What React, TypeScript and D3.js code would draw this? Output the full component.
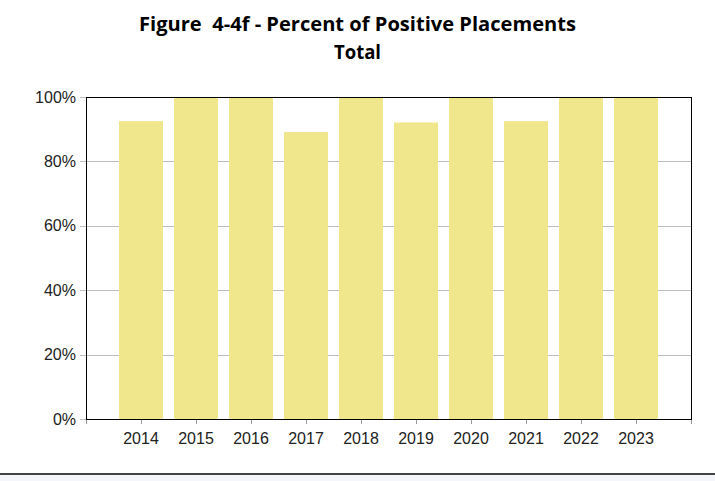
import React, { useEffect, useRef } from "react";
import * as d3 from "d3";

const years: number[] = [2014, 2015, 2016, 2017, 2018, 2019, 2020, 2021, 2022, 2023];
const values: number[] = [92.5, 100, 100, 89.1, 100, 92.1, 100, 92.5, 100, 100];
const yTicks: number[] = [0, 20, 40, 60, 80, 100];

const W = 715;
const H = 481;
const margin = { top: 97, right: 24, bottom: 62, left: 86 };

const App = () => {
  const ref = useRef<SVGSVGElement>(null);

  useEffect(() => {
    if (!ref.current) return;
    const svg = d3.select(ref.current);
    svg.selectAll("*").remove();

    const x0 = margin.left;
    const x1 = W - margin.right;
    const y0 = H - margin.bottom;
    const y1 = margin.top;

    // linear axis with one empty slot on each side of the bars
    const x = d3.scaleLinear().domain([2013, 2024]).range([x0, x1]);
    const y = d3.scaleLinear().domain([0, 100]).range([y0, y1]);
    const step = x(2014) - x(2013);
    const bw = step * 0.8;

    svg.append("rect").attr("width", W).attr("height", H).attr("fill", "#fff");

    // title
    const title = svg
      .append("text")
      .attr("text-anchor", "middle")
      .attr("font-family", "'Open Sans', 'Liberation Sans', Arial, sans-serif")
      .attr("font-weight", "bold")
      .attr("font-size", 20)
      .attr("fill", "#000")
      .style("white-space", "pre");
    title
      .append("tspan")
      .attr("x", 357.5)
      .attr("y", 31)
      .attr("textLength", 437)
      .attr("lengthAdjust", "spacingAndGlyphs")
      .text("Figure  4-4f - Percent of Positive Placements");
    title
      .append("tspan")
      .attr("x", 357.5)
      .attr("y", 59)
      .attr("textLength", 47)
      .attr("lengthAdjust", "spacingAndGlyphs")
      .text("Total");

    // grid
    svg
      .append("g")
      .selectAll("line")
      .data(yTicks)
      .join("line")
      .attr("x1", x0 - 6)
      .attr("x2", x1)
      .attr("y1", (d) => Math.round(y(d)) + 0.5)
      .attr("y2", (d) => Math.round(y(d)) + 0.5)
      .attr("stroke", "#bdbdbd")
      .attr("stroke-width", 1);

    // bars
    svg
      .append("g")
      .selectAll("rect")
      .data(years)
      .join("rect")
      .attr("x", (d) => x(d) - bw / 2)
      .attr("width", bw)
      .attr("y", (d, i) => y(values[i]))
      .attr("height", (d, i) => y0 - y(values[i]))
      .attr("fill", "#F0E68C");

    // frame
    svg
      .append("rect")
      .attr("x", x0 + 0.5)
      .attr("y", y1 + 0.5)
      .attr("width", x1 - x0)
      .attr("height", y0 - y1)
      .attr("fill", "none")
      .attr("stroke", "#000")
      .attr("stroke-width", 1);

    // y labels
    svg
      .append("g")
      .selectAll("text")
      .data(yTicks)
      .join("text")
      .attr("x", x0 - 10)
      .attr("y", (d) => y(d) + 5.5)
      .attr("text-anchor", "end")
      .attr("font-family", "'Liberation Sans', Arial, sans-serif")
      .attr("font-size", 16)
      .attr("fill", "#222")
      .text((d) => `${d}%`);

    // x ticks
    const xt = [2013, ...years, 2024];
    svg
      .append("g")
      .selectAll("line")
      .data(xt)
      .join("line")
      .attr("x1", (d) => Math.round(x(d)) + 0.5)
      .attr("x2", (d) => Math.round(x(d)) + 0.5)
      .attr("y1", y0 + 1)
      .attr("y2", y0 + 5)
      .attr("stroke", "#999");

    svg
      .append("g")
      .selectAll("text")
      .data(years)
      .join("text")
      .attr("x", (d) => x(d))
      .attr("y", y0 + 25)
      .attr("text-anchor", "middle")
      .attr("font-family", "'Liberation Sans', Arial, sans-serif")
      .attr("font-size", 16)
      .attr("fill", "#222")
      .text((d) => String(d));

    // bottom strip
    svg.append("rect").attr("x", 0).attr("y", 473).attr("width", W).attr("height", 2).attr("fill", "#444");
    svg.append("rect").attr("x", 0).attr("y", 475).attr("width", W).attr("height", 6).attr("fill", "#f4f6fc");
  }, []);

  return (
    <div style={{ position: "fixed", left: 0, top: 0 }}>
      <svg ref={ref} width={W} height={H} style={{ display: "block" }}></svg>
    </div>
  );
};

export default App;
